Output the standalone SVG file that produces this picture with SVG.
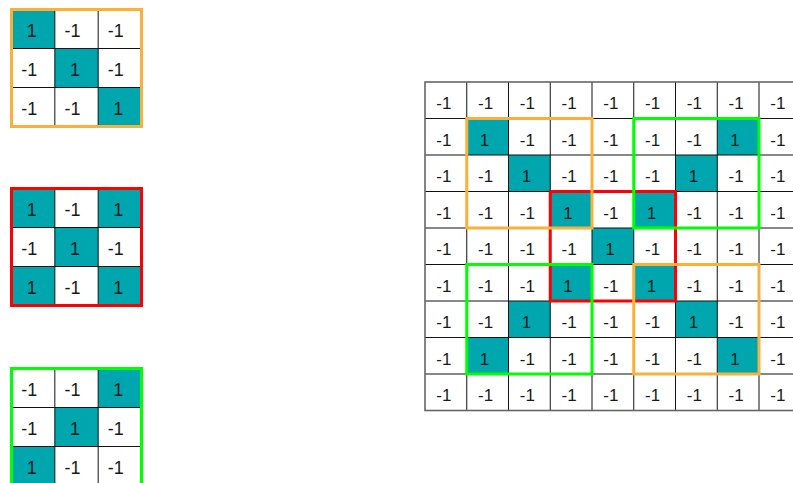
<svg xmlns="http://www.w3.org/2000/svg" width="793" height="483" viewBox="0 0 793 483">
<style>
.bg{fill:#ffffff}
.on{fill:#00A6AE}
.ln{fill:none;stroke:#111;stroke-width:1}
.edge{fill:none;stroke:#666;stroke-width:1.6}
.t{font-family:"Liberation Sans",Arial,sans-serif;fill:#1a1a1a;text-anchor:middle}
.s{font-size:18px}
.b{font-size:17px}
.or{fill:none;stroke:#FBB03B;stroke-width:3}
.rd{fill:none;stroke:#FF0000;stroke-width:3}
.gr{fill:none;stroke:#00FF00;stroke-width:3}
</style>
<rect width="793" height="483" fill="#ffffff"/>

<g id="filter-diagonal">
<rect class="bg" x="11.5" y="9.5" width="130" height="117"/>
<rect class="on" x="11.5" y="9.5" width="43.33" height="39"/>
<rect class="on" x="54.83" y="48.5" width="43.33" height="39"/>
<rect class="on" x="98.17" y="87.5" width="43.33" height="39"/>
<path class="ln" d="M54.83 9.5V126.5M98.17 9.5V126.5M11.5 48.5H141.5M11.5 87.5H141.5"/>
<g class="t s">
<text x="31.7" y="36.5">1</text><text x="72.5" y="36.5">-1</text><text x="115.8" y="36.5">-1</text>
<text x="29.2" y="75.5">-1</text><text x="75" y="75.5">1</text><text x="115.8" y="75.5">-1</text>
<text x="29.2" y="114.5">-1</text><text x="72.5" y="114.5">-1</text><text x="118.3" y="114.5">1</text>
</g>
<rect class="or" x="11.5" y="9.5" width="130" height="117"/>
</g>

<g id="filter-x">
<rect class="bg" x="11.5" y="188.5" width="130" height="117"/>
<rect class="on" x="11.5" y="188.5" width="43.33" height="39"/>
<rect class="on" x="98.17" y="188.5" width="43.33" height="39"/>
<rect class="on" x="54.83" y="227.5" width="43.33" height="39"/>
<rect class="on" x="11.5" y="266.5" width="43.33" height="39"/>
<rect class="on" x="98.17" y="266.5" width="43.33" height="39"/>
<path class="ln" d="M54.83 188.5V305.5M98.17 188.5V305.5M11.5 227.5H141.5M11.5 266.5H141.5"/>
<g class="t s">
<text x="31.7" y="215.5">1</text><text x="72.5" y="215.5">-1</text><text x="118.3" y="215.5">1</text>
<text x="29.2" y="254.5">-1</text><text x="75" y="254.5">1</text><text x="115.8" y="254.5">-1</text>
<text x="31.7" y="293.5">1</text><text x="72.5" y="293.5">-1</text><text x="118.3" y="293.5">1</text>
</g>
<rect class="rd" x="11.5" y="188.5" width="130" height="117"/>
</g>

<g id="filter-antidiagonal">
<rect class="bg" x="11.5" y="368.5" width="130" height="117"/>
<rect class="on" x="98.17" y="368.5" width="43.33" height="39"/>
<rect class="on" x="54.83" y="407.5" width="43.33" height="39"/>
<rect class="on" x="11.5" y="446.5" width="43.33" height="39"/>
<path class="ln" d="M54.83 368.5V485.5M98.17 368.5V485.5M11.5 407.5H141.5M11.5 446.5H141.5"/>
<g class="t s">
<text x="29.2" y="395.5">-1</text><text x="72.5" y="395.5">-1</text><text x="118.3" y="395.5">1</text>
<text x="29.2" y="434.5">-1</text><text x="75" y="434.5">1</text><text x="115.8" y="434.5">-1</text>
<text x="31.7" y="473.5">1</text><text x="72.5" y="473.5">-1</text><text x="115.8" y="473.5">-1</text>
</g>
<rect class="gr" x="11.5" y="368.5" width="130" height="117"/>
</g>

<g id="image-grid">
<rect class="bg" x="425" y="82" width="375.75" height="328.5"/>
<g id="image-ones">
<rect class="on" x="466.75" y="118.5" width="41.75" height="36.5"/>
<rect class="on" x="717.25" y="118.5" width="41.75" height="36.5"/>
<rect class="on" x="508.5" y="155" width="41.75" height="36.5"/>
<rect class="on" x="675.5" y="155" width="41.75" height="36.5"/>
<rect class="on" x="550.25" y="191.5" width="41.75" height="36.5"/>
<rect class="on" x="633.75" y="191.5" width="41.75" height="36.5"/>
<rect class="on" x="592" y="228" width="41.75" height="36.5"/>
<rect class="on" x="550.25" y="264.5" width="41.75" height="36.5"/>
<rect class="on" x="633.75" y="264.5" width="41.75" height="36.5"/>
<rect class="on" x="508.5" y="301" width="41.75" height="36.5"/>
<rect class="on" x="675.5" y="301" width="41.75" height="36.5"/>
<rect class="on" x="466.75" y="337.5" width="41.75" height="36.5"/>
<rect class="on" x="717.25" y="337.5" width="41.75" height="36.5"/>
</g>
<path class="ln" d="M466.75 82V410.5M508.5 82V410.5M550.25 82V410.5M592 82V410.5M633.75 82V410.5M675.5 82V410.5M717.25 82V410.5M759 82V410.5M425 118.5H800.75M425 155H800.75M425 191.5H800.75M425 228H800.75M425 264.5H800.75M425 301H800.75M425 337.5H800.75M425 374H800.75"/>
<rect class="edge" x="425" y="82" width="375.75" height="328.5"/>
<g class="t b">
<text x="443.9" y="109">-1</text><text x="485.6" y="109">-1</text><text x="527.4" y="109">-1</text><text x="569.1" y="109">-1</text><text x="610.9" y="109">-1</text><text x="652.6" y="109">-1</text><text x="694.4" y="109">-1</text><text x="736.1" y="109">-1</text><text x="777.9" y="109">-1</text>
<text x="443.9" y="145.5">-1</text><text x="484.6" y="145.5">1</text><text x="527.4" y="145.5">-1</text><text x="569.1" y="145.5">-1</text><text x="610.9" y="145.5">-1</text><text x="652.6" y="145.5">-1</text><text x="694.4" y="145.5">-1</text><text x="735.1" y="145.5">1</text><text x="777.9" y="145.5">-1</text>
<text x="443.9" y="182">-1</text><text x="485.6" y="182">-1</text><text x="526.4" y="182">1</text><text x="569.1" y="182">-1</text><text x="610.9" y="182">-1</text><text x="652.6" y="182">-1</text><text x="693.4" y="182">1</text><text x="736.1" y="182">-1</text><text x="777.9" y="182">-1</text>
<text x="443.9" y="218.5">-1</text><text x="485.6" y="218.5">-1</text><text x="527.4" y="218.5">-1</text><text x="568.1" y="218.5">1</text><text x="610.9" y="218.5">-1</text><text x="651.6" y="218.5">1</text><text x="694.4" y="218.5">-1</text><text x="736.1" y="218.5">-1</text><text x="777.9" y="218.5">-1</text>
<text x="443.9" y="255">-1</text><text x="485.6" y="255">-1</text><text x="527.4" y="255">-1</text><text x="569.1" y="255">-1</text><text x="609.9" y="255">1</text><text x="652.6" y="255">-1</text><text x="694.4" y="255">-1</text><text x="736.1" y="255">-1</text><text x="777.9" y="255">-1</text>
<text x="443.9" y="291.5">-1</text><text x="485.6" y="291.5">-1</text><text x="527.4" y="291.5">-1</text><text x="568.1" y="291.5">1</text><text x="610.9" y="291.5">-1</text><text x="651.6" y="291.5">1</text><text x="694.4" y="291.5">-1</text><text x="736.1" y="291.5">-1</text><text x="777.9" y="291.5">-1</text>
<text x="443.9" y="328">-1</text><text x="485.6" y="328">-1</text><text x="526.4" y="328">1</text><text x="569.1" y="328">-1</text><text x="610.9" y="328">-1</text><text x="652.6" y="328">-1</text><text x="693.4" y="328">1</text><text x="736.1" y="328">-1</text><text x="777.9" y="328">-1</text>
<text x="443.9" y="364.5">-1</text><text x="484.6" y="364.5">1</text><text x="527.4" y="364.5">-1</text><text x="569.1" y="364.5">-1</text><text x="610.9" y="364.5">-1</text><text x="652.6" y="364.5">-1</text><text x="694.4" y="364.5">-1</text><text x="735.1" y="364.5">1</text><text x="777.9" y="364.5">-1</text>
<text x="443.9" y="401">-1</text><text x="485.6" y="401">-1</text><text x="527.4" y="401">-1</text><text x="569.1" y="401">-1</text><text x="610.9" y="401">-1</text><text x="652.6" y="401">-1</text><text x="694.4" y="401">-1</text><text x="736.1" y="401">-1</text><text x="777.9" y="401">-1</text>
</g>
</g>

<g id="highlights">
<rect id="hl-center-x" class="rd" x="550.25" y="191.5" width="125.25" height="109.5"/>
<rect id="hl-top-left" class="or" x="466.75" y="118.5" width="125.25" height="109.5"/>
<rect id="hl-top-right" class="gr" x="633.75" y="118.5" width="125.25" height="109.5"/>
<rect id="hl-bottom-left" class="gr" x="466.75" y="264.5" width="125.25" height="109.5"/>
<rect id="hl-bottom-right" class="or" x="633.75" y="264.5" width="125.25" height="109.5"/>
</g>
</svg>
